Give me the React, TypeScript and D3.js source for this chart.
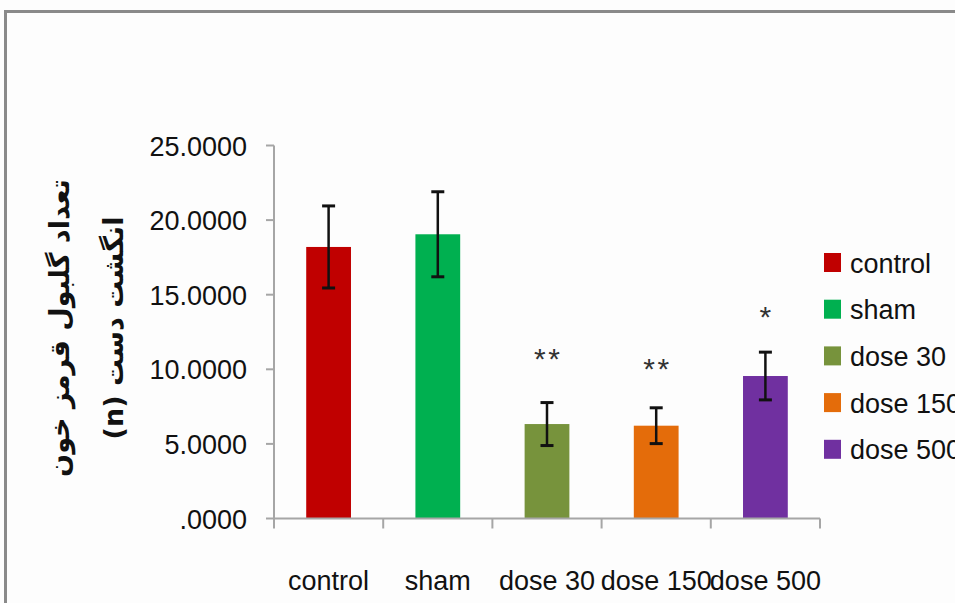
import React from "react";
import * as d3 from "d3";

const categories = ["control", "sham", "dose 30", "dose 150", "dose 500"];
const means = [18.2, 19.05, 6.33, 6.22, 9.55];
const errors = [2.75, 2.85, 1.44, 1.2, 1.6];
const colors = ["#C00000", "#00B050", "#77933C", "#E46C0A", "#7030A0"];
const marks = ["", "", "**", "**", "*"];
const markValues = [0, 0, 10.0, 9.35, 12.85];
const yTicks = [0, 5, 10, 15, 20, 25];
const yTitle = ["تعداد گلبول قرمز خون", "انگشت دست (n)"];

const W = 955;
const H = 603;
const left = 274;
const right = 820;
const top = 145.5;
const bottom = 518.5;

export default function App() {
  const x = d3.scaleBand<string>().domain(categories).range([left, right]).paddingInner(0.59).paddingOuter(0.295);
  const y = d3.scaleLinear().domain([0, 25]).range([bottom, top]);
  const bw = x.bandwidth();
  const step = x.step();
  const fmt = (v: number) => (v === 0 ? ".0000" : d3.format(".4f")(v));
  const font = "'Liberation Sans', Arial, sans-serif";
  const fs = 27;
  return (
    <svg width={W} height={H} style={{ position: "absolute", left: 0, top: 0, background: "#fdfdfd" }}>
      <rect x={0} y={0} width={W} height={H} fill="#fdfdfd" />
      {/* outer frame */}
      <rect x={5.5} y={11.5} width={W + 20} height={H + 20} fill="none" stroke="#8a8a8a" strokeWidth={3} />
      {/* y axis */}
      <line x1={left} x2={left} y1={top} y2={bottom} stroke="#a6a6a6" strokeWidth={2} />
      {yTicks.map((t) => (
        <g key={t}>
          <line x1={left - 8} x2={left} y1={y(t)} y2={y(t)} stroke="#a6a6a6" strokeWidth={2} />
          <text x={247} y={y(t) + 10} textAnchor="end" fontFamily={font} fontSize={fs} fill="#111">
            {fmt(t)}
          </text>
        </g>
      ))}
      {/* bars */}
      {categories.map((c, i) => (
        <rect key={c} x={x(c)} y={y(means[i])} width={bw} height={y(0) - y(means[i])} fill={colors[i]} />
      ))}
      {/* x axis */}
      <line x1={left} x2={right} y1={bottom} y2={bottom} stroke="#a6a6a6" strokeWidth={2} />
      {d3.range(categories.length + 1).map((k) => (
        <line key={k} x1={left + k * step} x2={left + k * step} y1={bottom} y2={bottom + 10} stroke="#a6a6a6" strokeWidth={2} />
      ))}
      {/* error bars */}
      {categories.map((c, i) => {
        const cx = (x(c) as number) + bw / 2;
        const y1 = y(means[i] + errors[i]);
        const y2 = y(means[i] - errors[i]);
        return (
          <g key={c} stroke="#111" strokeWidth={3}>
            <line x1={cx} x2={cx} y1={y1} y2={y2} strokeWidth={2.5} />
            <line x1={cx - 6.5} x2={cx + 6.5} y1={y1} y2={y1} />
            <line x1={cx - 6.5} x2={cx + 6.5} y1={y2} y2={y2} />
          </g>
        );
      })}
      {/* significance marks */}
      {categories.map((c, i) =>
        marks[i] ? (
          <text key={c} x={(x(c) as number) + bw / 2 + 1.2} y={y(markValues[i])} textAnchor="middle" fontFamily={font} fontSize={30} fill="#333" letterSpacing={2.4}>
            {marks[i]}
          </text>
        ) : null
      )}
      {/* x labels */}
      {categories.map((c) => (
        <text key={c} x={(x(c) as number) + bw / 2} y={590} textAnchor="middle" fontFamily={font} fontSize={fs} fill="#111">
          {c}
        </text>
      ))}
      {/* legend */}
      {categories.map((c, i) => (
        <g key={c} transform={`translate(824, ${253 + i * 46.7})`}>
          <rect x={0} y={0} width={17} height={19} fill={colors[i]} />
          <text x={26} y={19.5} fontFamily={font} fontSize={fs} fill="#111">
            {c}
          </text>
        </g>
      ))}
      {/* y title */}
      <g transform="translate(0, 328) rotate(-90)">
        <text x={0} y={69} textAnchor="middle" direction="rtl" fontFamily="'DejaVu Sans', sans-serif" fontWeight="bold" fontSize={27} fill="#111">
          {yTitle[0]}
        </text>
        <text x={0} y={123} textAnchor="middle" direction="rtl" fontFamily="'DejaVu Sans', sans-serif" fontWeight="bold" fontSize={27} fill="#111">
          {yTitle[1]}
        </text>
      </g>
    </svg>
  );
}
